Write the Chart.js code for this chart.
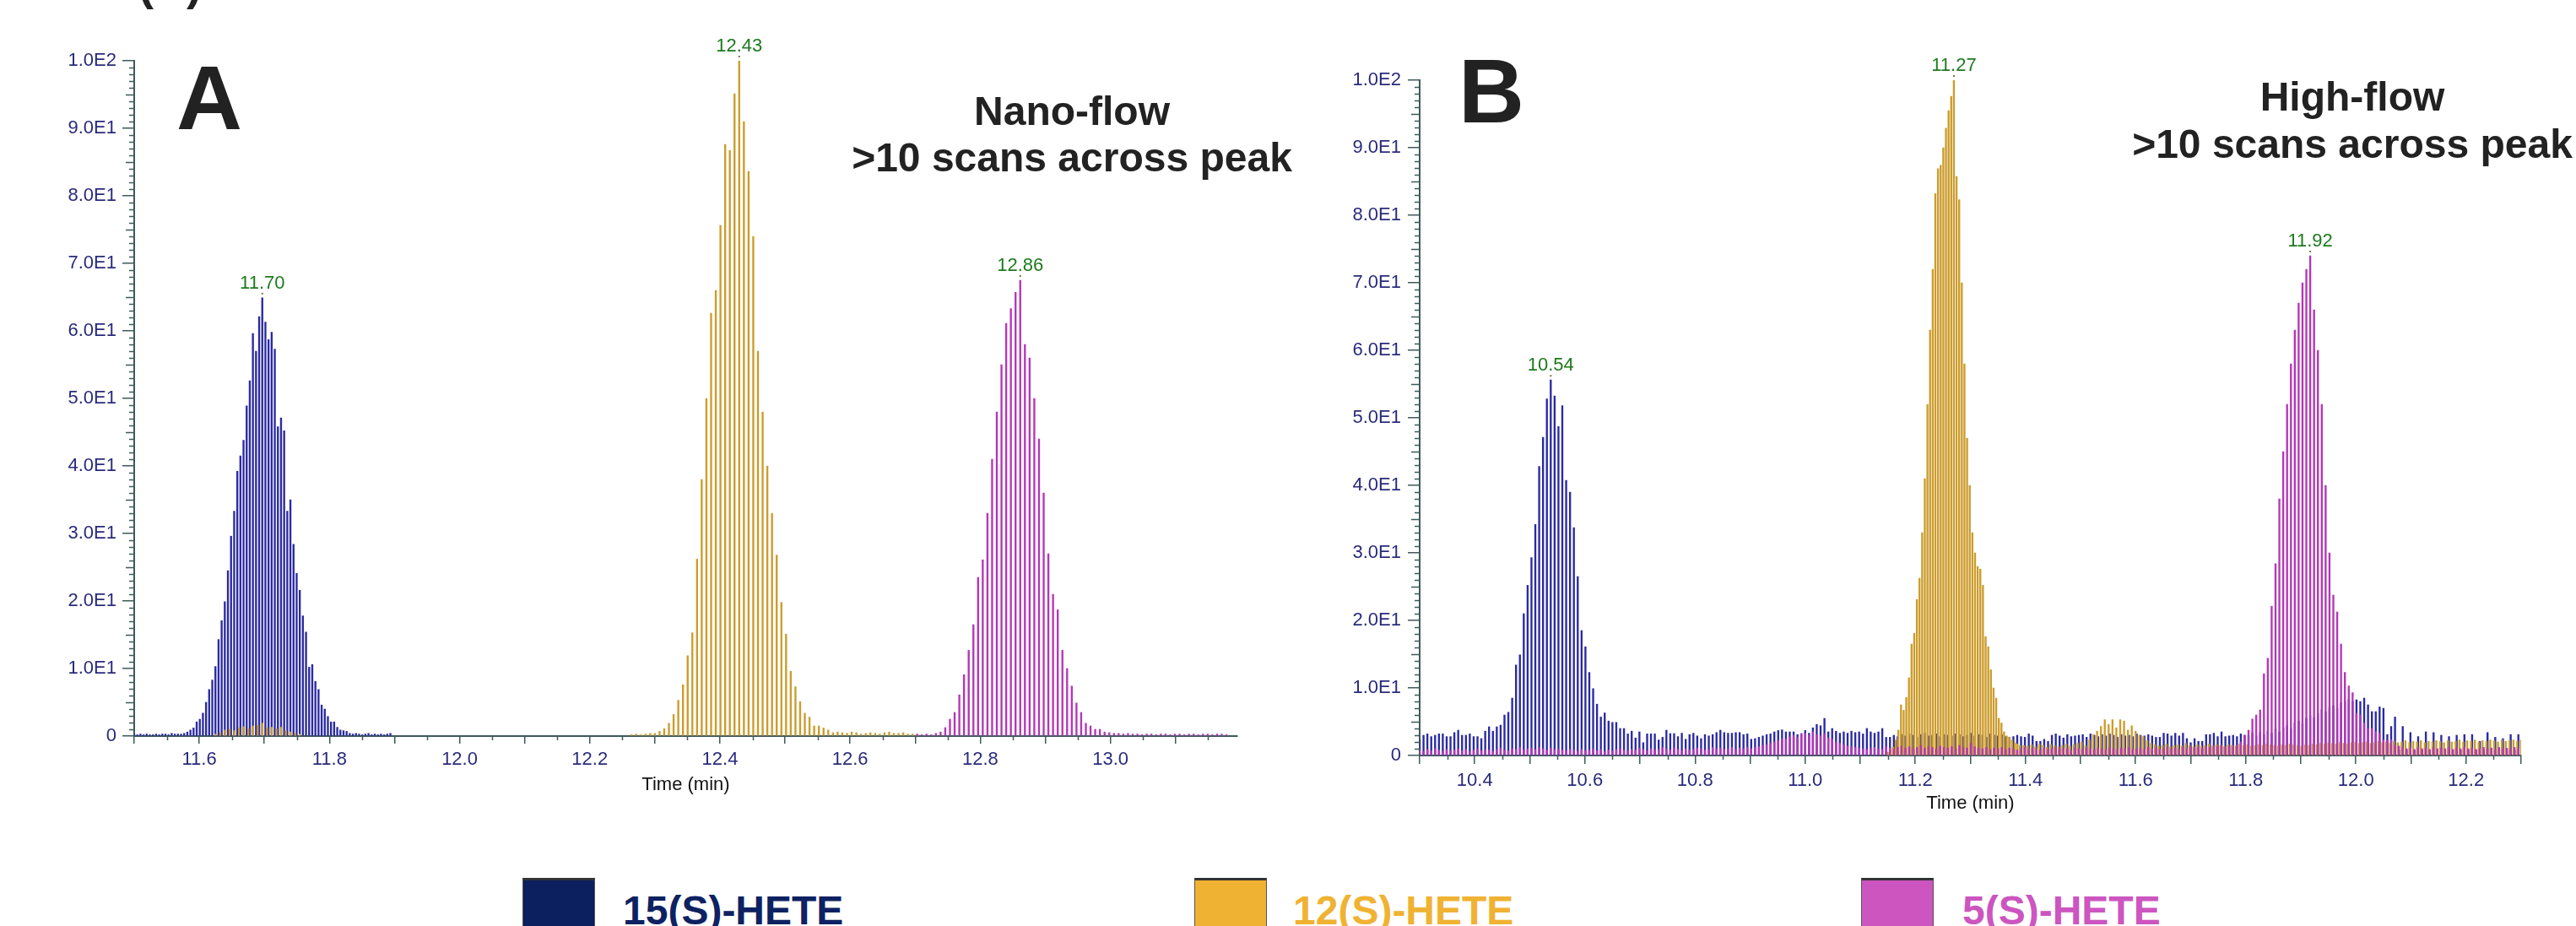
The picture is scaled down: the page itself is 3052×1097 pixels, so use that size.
<!DOCTYPE html>
<html>
<head>
<meta charset="utf-8">
<title>HETE peaks, nano-flow vs high-flow</title>
<script src="https://cdn.jsdelivr.net/npm/chart.js@4.4.1/dist/chart.umd.min.js"></script>
<style>
  body { margin: 0; width: 3052px; height: 1097px; overflow: hidden; background: #fff; position: relative;
         font-family: "Liberation Sans", Arial, sans-serif; }
  canvas { position: absolute; top: 0; }
  .big { position: absolute; font-weight: bold; font-size: 108px; line-height: 108px; color: #222; }
  .note { position: absolute; width: 600px; font-weight: bold; font-size: 48px; line-height: 55px; color: #222;
          text-align: center; white-space: nowrap; }
  .key { position: absolute; top: 1040px; width: 86px; height: 70px; box-sizing: border-box;
         border: 1px solid #555; border-top: 3px solid #333; }
  .keytext { position: absolute; top: 1055px; font-weight: bold; font-size: 48px; line-height: 48px; white-space: nowrap; }
</style>
</head>
<body>
<div style="position:absolute; left:164px; top:-46px; font-weight:bold; font-size:54px; line-height:54px; color:#222;">(B)</div>

<canvas id="chartA" width="1540" height="1000" style="left:0;"></canvas>
<canvas id="chartB" width="1492" height="1000" style="left:1560px;"></canvas>

<div class="big" style="left:209px; top:62px;">A</div>
<div class="big" style="left:1728px; top:54px;">B</div>
<div class="note" style="left:970px; top:104px;">Nano-flow<br>&gt;10 scans across peak</div>
<div class="note" style="left:2487px; top:87px; line-height:56px;">High-flow<br>&gt;10 scans across peak</div>

<div class="key" style="left:619px; background:#0c1f5e;"></div>
<div class="keytext" style="left:738px; color:#0e2262;">15(S)-HETE</div>
<div class="key" style="left:1415px; background:#f0b232;"></div>
<div class="keytext" style="left:1532px; color:#f0b232;">12(S)-HETE</div>
<div class="key" style="left:2205px; background:#cc55c0;"></div>
<div class="keytext" style="left:2325px; color:#cc55c0;">5(S)-HETE</div>

<script>
Chart.defaults.font.family = '"Liberation Sans", Arial, sans-serif';
Chart.defaults.animation = false;

// tick labels
const yTickLabels = ['0', '1.0E1', '2.0E1', '3.0E1', '4.0E1', '5.0E1', '6.0E1', '7.0E1', '8.0E1', '9.0E1', '1.0E2'];
const xTickLabelsA = ['11.6', '11.8', '12.0', '12.2', '12.4', '12.6', '12.8', '13.0'];
const xTickLabelsB = ['10.4', '10.6', '10.8', '11.0', '11.2', '11.4', '11.6', '11.8', '12.0', '12.2'];

// series names and peak apex labels
const compounds = ['15(S)-HETE', '12(S)-HETE', '5(S)-HETE'];
const peakLabelsA = ['11.70', '12.43', '12.86'];
const peakLabelsB = ['10.54', '11.27', '11.92'];

// each run: [first scan time (min), scan interval (min), intensities]
// A: nano-flow
const a15 = [[11.500, 0.0048, [
  0.3, 0.2, 0.3, 0.2, 0.3, 0.2, 0.2, 0.3, 0.2, 0.3, 0.3, 0.2, 0.4, 0.3, 0.3, 0.3,
  0.4, 0.6, 0.9, 1.2, 2.1, 2.5, 3.4, 5.0, 6.9, 8.3, 10.3, 14.3, 17.1, 19.9, 24.5, 29.6,
  33.3, 39.2, 41.5, 43.8, 48.9, 52.6, 59.6, 57.0, 62.1, 64.9, 61.3, 58.7, 59.8, 57.3, 45.8, 47.1,
  45.2, 33.3, 35.0, 28.4, 24.1, 21.6, 17.8, 15.4, 10.2, 10.6, 8.1, 6.9, 4.6, 4.0,
  2.9, 2.1, 2.1, 1.3, 0.9, 0.8, 0.7, 0.4, 0.3, 0.4, 0.3, 0.2, 0.3, 0.4, 0.2, 0.3, 0.2, 0.3, 0.2, 0.3, 0.4
]]];
const a12 = [
  [11.625, 0.0072, [0.3, 0.5, 0.9, 1.0, 0.8, 1.2, 1.4, 1.1, 1.5, 1.6, 1.9, 1.2, 1.3, 1.1, 1.3, 0.8, 0.6, 0.4, 0.3]],
  [12.264, 0.0072, [
    0.2, 0.3, 0.2, 0.3, 0.4, 0.4, 0.7, 1.1, 1.9, 3.2, 5.3, 7.6, 11.9, 15.3, 26.2, 38.0, 50.0, 62.6, 66.0, 75.6,
    87.6, 86.7, 95.1, 100, 91.0, 83.6, 74.0, 57.0, 48.0, 40.0, 33.0, 26.8, 19.8, 15.1, 9.6, 7.3, 5.1, 3.4, 2.8, 1.5,
    1.5, 1.2, 0.9, 0.5, 0.6, 0.5, 0.4, 0.6, 0.5, 0.3, 0.4, 0.5, 0.4, 0.3, 0.5, 0.6, 0.4, 0.4, 0.5, 0.3, 0.3, 0.2
  ]]
];
const a5 = [[12.703, 0.0072, [
  0.3, 0.2, 0.3, 0.2, 0.4, 0.6, 1.25, 2.5, 3.5, 6.1, 9.1, 12.7, 16.5, 23.5, 26.1, 33, 41, 48, 55, 61.1,
  63.3, 65.7, 67.5, 58, 56, 50, 44, 36, 27, 21, 18.7, 12.7, 10, 7.4, 4.9, 3.5, 1.9, 1.5, 1.0, 1.0,
  0.6, 0.5, 0.4, 0.4, 0.3, 0.4, 0.3, 0.3, 0.2, 0.3, 0.3, 0.2, 0.3, 0.3, 0.2, 0.3, 0.3, 0.2, 0.3, 0.3,
  0.2, 0.3, 0.3, 0.2, 0.3, 0.3, 0.2
]]];

// B: high-flow
const b15 = [[10.300, 0.007, [
  2.3, 3.0, 3.2, 2.8, 3.0, 3.2, 3.2, 2.8, 2.8, 3.4, 3.75, 3.0, 3.0, 3.2,
  2.8, 2.8, 2.5, 3.6, 4.25, 3.6, 4.25, 4.5, 6.0, 6.4, 8.5, 13.4, 14.9, 21, 25.2, 29.3, 34.2, 42.8, 47.1, 52.8,
  55.6, 53.25, 48.7, 51.8, 40.75, 39, 33.75, 26.5, 18.5, 16.1, 12.3, 9.9, 7.6, 5.7, 6.3, 5.1, 4.9, 4.9, 4.0, 4.0, 3.2,
  3.6, 2.6, 3.5, 1.9, 3.2, 3.2, 3.2, 2.3, 2.7, 3.75, 3.25, 3.25, 2.8, 3.3, 2.4, 3.1, 3.3, 2.9, 2.5, 3.1,
  2.9, 3.1, 3.4, 3.75, 3.4, 3.3, 3.3, 3.4, 3.4, 3.1, 3.2, 2.4, 2.5, 2.7, 2.9, 3.1, 3.2, 3.5, 3.7, 3.8,
  3.5, 3.5, 3.5, 3.1, 3.25, 3.7, 3.3, 4.1, 4.6, 4.4, 5.5,
  3.5, 4.0, 3.6, 3.3, 3.5, 3.3, 3.6, 3.4, 3.5, 3.2, 4.0, 3.5, 3.3, 3.5, 4.0, 2.7, 2.7,
  3.0, 2.8, 3.1, 2.9, 3.2, 3.0, 2.7, 3.1, 3.3, 2.9, 3.0, 3.2, 2.8, 3.1, 3.0, 2.9, 3.2, 3.1, 2.8, 3.0,
  3.3, 2.9, 3.1, 3.0, 2.7, 3.2, 3.0, 2.9, 3.1, 2.8,
  2.7, 2.8, 3.0, 2.8, 2.7, 3.2, 2.9, 2.1, 2.1, 2.4, 2.1, 3.0, 3.2, 2.9, 2.6, 3.1, 2.8, 2.9, 3.0, 3.1, 2.7, 3.2,
  3.0, 2.8, 3.1, 2.9, 3.2, 3.0, 2.7, 3.1, 2.9, 3.0, 2.8, 3.2, 3.0, 2.9, 3.1,
  2.9, 2.7, 2.7, 3.3, 3.2, 2.9, 3.3, 2.9, 3.3, 2.5, 1.9, 2.5, 2.1, 2.1, 3.1, 3.1, 3.3, 2.8, 3.5, 2.8, 2.9, 3.0, 2.8, 3.2, 3.0,
  3.0, 3.3, 2.9, 3.4, 3.1, 3.6, 3.3, 3.9, 3.5, 4.1, 4.4, 4.0, 4.8, 5.1, 4.7, 5.5, 5.9, 5.6, 6.2, 6.8,
  6.5, 7.1, 7.4, 7.0, 7.8, 8.0, 8.3, 8.0,
  8.25, 8.0, 8.5, 7.5, 6.5, 6.5, 7.2, 7.0, 3.1, 4.3, 5.7, 0.8, 4.3, 0.8, 3.4, 0.8, 2.8, 0.8, 3.5, 0.8,
  3.4, 0.8, 3.0, 0.8, 2.8, 0.8, 3.0, 0.8, 3.1, 0.8, 3.1, 0.8, 2.1, 0.8, 3.4, 0.8, 2.7, 0.8, 2.5, 0.8,
  3.1, 0.8, 3.1
]]];
const b12 = [
  [11.150, 0.0048, [
    0.5, 1.0, 1.25, 2.3, 3.75, 7.5, 6.7, 8.6, 11.5, 16.5, 18.1, 23.1, 26.25, 33, 41, 52, 63, 72, 83.2, 86.9,
    87.4, 90, 92.9, 95.5, 97.6, 100, 85.75, 82.3, 70, 58, 47, 40, 33, 30, 28, 27.6, 25.2, 17.6, 16.1, 12.7,
    10, 8.5, 5.5, 4.8, 3.5, 2.9, 2.7, 2.3, 1.9, 1.7, 1.5
  ]],
  [11.397, 0.007, [
    1.5, 1.4, 1.6, 1.3, 1.7, 1.5, 1.2, 1.6, 1.4, 1.3, 1.5, 1.7, 1.4, 1.6, 1.8, 2.0, 1.5, 2.3, 3.1, 3.6,
    4.3, 5.3, 4.6, 5.3, 4.1, 5.3, 5.1, 3.75, 4.4, 3.6, 3.0, 2.8, 2.2, 1.8,
    1.6, 1.4, 1.5, 1.7, 1.3, 1.5, 1.6, 1.4, 1.8, 1.5, 1.3, 1.6, 1.4, 1.5, 1.7, 1.4, 1.6, 1.5, 1.3, 1.6,
    1.5, 1.4, 1.7, 1.5, 1.6, 1.4, 1.5, 1.6, 1.5, 1.7, 1.6, 1.5, 1.4, 1.6, 1.5, 1.7, 1.6, 1.5, 1.4, 1.6,
    1.5, 1.7, 1.6, 1.8, 1.7, 1.9, 1.8, 1.7, 1.9, 1.8, 1.7, 1.9, 2.0, 1.8, 1.9, 2.0, 1.8, 1.9, 2.1, 1.9,
    2.0, 1.8, 2.1, 1.9, 2.0, 2.2, 1.9, 2.1, 2.0, 2.2, 1.9, 2.1, 2.0, 2.2, 2.1, 1.9, 2.2, 2.0, 2.1, 2.3,
    2.0, 2.2, 2.1, 2.3, 2.0, 2.2, 2.1, 2.3, 2.2, 2.0, 2.3, 2.1, 2.2, 2.3, 2.1, 2.3
  ]]
];
const b5 = [[10.300, 0.007, [
  0.8, 0.6, 0.9, 0.7, 1.0, 0.8, 0.6, 0.9, 0.7, 0.8, 1.0, 0.7, 0.9, 0.6, 0.8, 1.0, 0.7, 0.9, 0.8, 0.6,
  0.9, 1.1, 0.8, 0.7, 1.0, 0.9, 1.2, 0.8, 1.0, 1.1, 0.9, 1.2, 1.0, 0.8, 1.1, 0.9, 1.0, 0.8, 0.7, 0.9,
  0.8, 0.6, 0.9, 0.7, 0.8, 1.0, 0.7, 0.9, 0.6, 0.8, 0.7, 0.9, 1.0, 0.8, 0.7, 0.9, 0.8, 1.1, 0.9, 0.7,
  1.0, 0.8, 0.9, 1.2, 1.0, 0.8, 1.1, 0.9, 0.7, 1.0, 0.8, 0.9, 1.1, 1.0, 0.8, 0.9, 1.2, 1.0, 1.1, 0.9,
  1.0, 1.2, 0.9, 1.1, 1.0, 1.2,
  1.0, 1.2, 1.3, 1.5, 1.6, 1.8, 2.0, 2.2, 2.5, 2.4, 2.8, 3.0, 2.7, 3.2, 3.3, 3.0, 3.5, 3.1, 2.9, 3.2,
  2.6, 2.4, 2.0, 1.8, 1.6, 1.4, 1.3, 1.2, 1.1,
  1.0, 0.9, 1.1, 1.2, 1.0, 0.9, 1.3, 1.1, 1.0, 1.2, 1.4, 1.1, 1.3, 1.0, 1.2, 1.5, 1.1, 1.3, 1.2, 1.0,
  1.4, 1.2, 1.1, 1.3, 1.0, 1.5, 1.2, 1.1, 1.8, 1.3, 1.1, 1.0, 1.2, 0.9, 1.1, 1.0, 1.2, 0.9, 1.1, 1.0,
  0.8, 1.0, 1.2, 0.9, 1.1, 1.0, 0.8, 1.1, 0.9, 1.0, 1.2, 0.9, 1.1, 1.0, 0.8, 1.1, 1.0, 0.9, 1.2, 1.0,
  0.9, 1.1, 1.0, 0.8, 1.2, 1.0, 0.9, 1.1, 1.0, 1.2, 0.9, 1.0, 1.1, 0.9, 1.2, 1.0, 1.1, 0.9, 1.0, 1.2,
  1.0, 1.1, 0.9, 1.2, 1.0, 1.3, 1.1, 1.2, 1.1, 1.3, 1.2, 1.4, 1.3, 1.5, 1.2, 1.4, 1.3, 1.5, 2.0,
  3.0, 3.75, 5.4, 6.0, 6.75, 12.1, 14.4, 22.1, 28.4, 38, 45, 52, 58, 63, 67, 70, 72, 74, 66, 60,
  52, 40, 30, 23.75, 21.25, 16.5, 12.3, 10.3, 9.3, 6.25, 6.0, 4.8, 4.0, 4.0, 3.5, 3.3, 2.3, 2.3, 2.3, 1.5,
  1.4, 1.2, 1.0, 1.1, 0.9, 1.2, 1.0, 1.1, 0.9, 1.2, 1.0, 1.1, 1.0, 1.2, 0.9, 1.1, 1.0, 1.2, 1.0, 1.1,
  0.9, 1.0, 1.2, 1.0, 1.1, 0.9, 1.2, 1.0, 1.1, 1.0, 1.2, 1.0
]]];

const axisCol = '#3e5a5a';
const tickTextCol = '#2a2a7c';
const barColors = { '15(S)-HETE': '#2a2aa2', '12(S)-HETE': '#cc9c2c', '5(S)-HETE': '#b337b6' };

function toPoints(runs) {
  const pts = [];
  runs.forEach(([t0, dt, vals]) => {
    vals.forEach((v, i) => pts.push({ x: +(t0 + i * dt).toFixed(4), y: v }));
  });
  return pts;
}

// small ticks: every 1 and 5 on y, every 0.05 on x
const minorTicks = {
  id: 'minorTicks',
  afterDraw(chart) {
    const { ctx, scales: { x, y } } = chart;
    ctx.save();
    ctx.strokeStyle = axisCol;
    ctx.lineWidth = 1.5;
    ctx.beginPath();
    for (let v = 1; v < 100; v++) {
      if (v % 10 === 0) continue;
      const py = Math.round(y.getPixelForValue(v)) + 0.5;
      const len = v % 5 === 0 ? 10 : 6;
      ctx.moveTo(x.left - len, py);
      ctx.lineTo(x.left, py);
    }
    const k0 = Math.ceil(x.min / 0.05 - 1e-6), k1 = Math.floor(x.max / 0.05 + 1e-6);
    for (let k = k0; k <= k1; k++) {
      if (k % 2 === 0) continue;
      const px = Math.round(x.getPixelForValue(k * 0.05)) + 0.5;
      ctx.moveTo(px, y.bottom);
      ctx.lineTo(px, y.bottom + 5);
    }
    ctx.stroke();
    ctx.restore();
  }
};

// retention time over the apex of each peak
const peakTags = {
  id: 'peakTags',
  afterDatasetsDraw(chart) {
    const { ctx, scales: { x, y } } = chart;
    ctx.save();
    ctx.font = '22px "Liberation Sans", Arial, sans-serif';
    ctx.textAlign = 'center';
    ctx.textBaseline = 'alphabetic';
    chart.data.datasets.forEach(ds => {
      if (!ds.peakLabel) return;
      let top = ds.data[0];
      ds.data.forEach(p => { if (p.y > top.y) top = p; });
      const px = x.getPixelForValue(top.x), py = y.getPixelForValue(top.y);
      ctx.fillStyle = '#1d7a1d';
      ctx.fillText(ds.peakLabel, px, py - 11);
      ctx.fillStyle = '#777744';
      ctx.fillRect(px - 1, py - 6, 2, 2);
    });
    ctx.restore();
  }
};

function makeChart(id, series, peakLabels, cfg) {
  // drawn first = on top, so magenta, gold, blue
  const datasets = [2, 1, 0].map(k => ({
    label: compounds[k],
    data: toPoints(series[k]),
    backgroundColor: barColors[compounds[k]],
    barThickness: 1.7,
    grouped: false,
    borderWidth: 0,
    peakLabel: peakLabels[k]
  }));
  return new Chart(document.getElementById(id), {
    type: 'bar',
    data: { datasets },
    plugins: [minorTicks, peakTags],
    options: {
      responsive: false,
      layout: { padding: { top: cfg.top, right: cfg.right, bottom: 0, left: 0 } },
      plugins: { legend: { display: false }, tooltip: { enabled: false } },
      scales: {
        x: {
          type: 'linear',
          min: cfg.xMin,
          max: cfg.xMax,
          offset: false,
          z: 1,
          afterFit: s => { s.height = cfg.xHeight; },
          border: { color: axisCol, width: 2 },
          grid: { offset: false, drawOnChartArea: false, tickLength: cfg.tickLen, color: axisCol, lineWidth: 1.5 },
          ticks: {
            stepSize: 0.1,
            maxTicksLimit: 100,
            includeBounds: false,
            autoSkip: false,
            maxRotation: 0,
            padding: cfg.tickPad,
            color: tickTextCol,
            font: { size: 22 },
            callback: v => {
              const s = Number(v).toFixed(1);
              return cfg.xLabels.includes(s) ? s : '';
            }
          },
          title: {
            display: true,
            text: 'Time (min)',
            color: '#111',
            font: { size: 22 },
            padding: { top: 0, bottom: cfg.titlePad }
          }
        },
        y: {
          min: 0,
          max: 100,
          z: 1,
          afterFit: s => { s.width = cfg.yWidth; },
          border: { color: axisCol, width: 2 },
          grid: { drawOnChartArea: false, tickLength: 14, color: axisCol, lineWidth: 1.5 },
          ticks: {
            stepSize: 10,
            padding: cfg.yPad,
            color: tickTextCol,
            font: { size: 22 },
            callback: v => yTickLabels[Math.round(v / 10)]
          }
        }
      }
    }
  });
}

makeChart('chartA', [a15, a12, a5], peakLabelsA, {
  xMin: 11.5, xMax: 13.195, xLabels: xTickLabelsA,
  top: 72, right: 74, yWidth: 159, xHeight: 128,
  tickLen: 9, tickPad: 6, titlePad: 57, yPad: 7
});

makeChart('chartB', [b15, b12, b5], peakLabelsB, {
  xMin: 10.3, xMax: 12.3, xLabels: xTickLabelsB,
  top: 95, right: 65, yWidth: 122, xHeight: 105,
  tickLen: 10, tickPad: 7, titlePad: 35, yPad: 8
});
</script>
</body>
</html>
